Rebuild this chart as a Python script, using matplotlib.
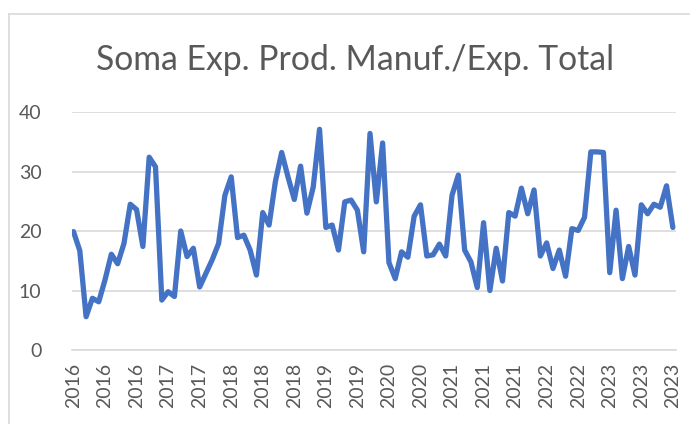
import matplotlib
matplotlib.use("Agg")
import matplotlib.pyplot as plt
from matplotlib.lines import Line2D
import numpy as np

title = "Soma Exp. Prod. Manuf./Exp. Total"

# Monthly values, Jan 2016 .. Dec 2023
values = [
    19.9, 16.7, 5.6, 8.7, 8.1, 11.8, 16.1, 14.5, 17.9, 24.5, 23.6, 17.4,
    32.4, 30.8, 8.4, 9.8, 9.0, 20.0, 15.7, 17.1, 10.6, 12.9, 15.2, 17.9,
    26.0, 29.1, 18.9, 19.3, 16.8, 12.6, 23.1, 21.0, 28.3, 33.2, 29.1, 25.3,
    30.9, 23.0, 27.4, 37.1, 20.6, 21.0, 16.8, 24.9, 25.2, 23.5, 16.5, 36.4,
    24.9, 34.8, 14.7, 12.0, 16.5, 15.6, 22.5, 24.4, 15.8, 16.0, 17.8, 15.8,
    26.0, 29.4, 16.8, 14.8, 10.5, 21.4, 10.0, 17.1, 11.6, 23.1, 22.5, 27.2,
    22.9, 26.9, 15.8, 18.0, 13.7, 16.8, 12.4, 20.4, 20.1, 22.3, 33.3, 33.3,
    33.2, 13.0, 23.5, 12.0, 17.4, 12.6, 24.4, 22.9, 24.5, 24.0, 27.6, 20.6,
]
years = [2016 + i // 12 for i in range(len(values))]
label_step = 5
y_ticks = [0, 10, 20, 30, 40]

text_color = "#595959"
line_color = "#4472C4"
grid_color = "#D9D9D9"
font = "Lato"

fig = plt.figure(figsize=(6.9, 4.24), dpi=100)
ax = fig.add_axes([0.1043, 0.1745, 0.8754, 0.5613])

x = np.arange(len(values))
ax.plot(x, values, color=line_color, linewidth=3.8, solid_joinstyle="round",
        solid_capstyle="round", zorder=3)

ax.set_ylim(0, 40)
ax.set_xlim(-0.24, len(values) - 0.5)
ax.set_yticks(y_ticks)
ax.set_yticklabels([str(v) for v in y_ticks], fontfamily=font, fontsize=14,
                   color=text_color)
ax.yaxis.grid(True, color=grid_color, linewidth=1.2, zorder=0)

tick_pos = x[::label_step]
ax.set_xticks(tick_pos)
ax.set_xticklabels([str(years[i]) for i in tick_pos], rotation=90,
                   fontfamily=font, fontsize=14, color=text_color)
ax.tick_params(axis="both", length=0)
ax.tick_params(axis="x", pad=9)
ax.tick_params(axis="y", pad=22)

for s in ["top", "right", "left"]:
    ax.spines[s].set_visible(False)
ax.spines["bottom"].set_color(grid_color)
ax.spines["bottom"].set_linewidth(1.2)

fig.text(0.5145, 0.858, title, ha="center", va="center", fontfamily=font,
         fontsize=24.3, color=text_color)

# chart frame (partially visible)
W, H = 690, 424
fig.add_artist(Line2D([8.5 / W, 8.5 / W], [0, 1 - 13.5 / H],
                      transform=fig.transFigure, color=grid_color, linewidth=1.2))
fig.add_artist(Line2D([8.5 / W, 1], [1 - 13.5 / H, 1 - 13.5 / H],
                      transform=fig.transFigure, color=grid_color, linewidth=1.2))

fig.savefig("out.png", dpi=100)
